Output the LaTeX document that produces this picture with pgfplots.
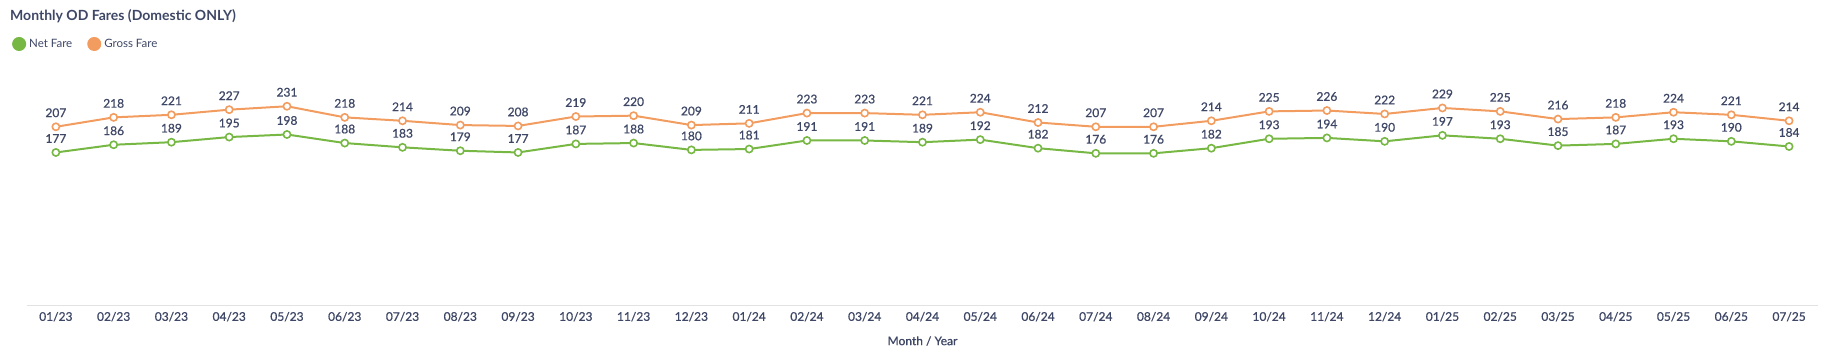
\documentclass[border=0pt]{standalone}
\usepackage{pgfplots}
\pgfplotsset{compat=1.18}
\usepackage{fontspec}
\setmainfont{Lato}
\newfontfamily\latomed[FakeBold=0.8]{Lato}
\definecolor{netc}{HTML}{77B844}
\definecolor{grossc}{HTML}{F39C5F}
\definecolor{txt}{HTML}{3E4766}
\definecolor{axc}{HTML}{E2E2E2}
\begin{document}
\begin{tikzpicture}
\useasboundingbox (0,0) rectangle (1836pt,355pt);
\begin{axis}[
  at={(27pt,49pt)}, anchor=south west,
  scale only axis, width=1791pt, height=216pt,
  xmin=-0.5, xmax=30.5, ymin=-2.4, ymax=250,
  axis x line*=bottom, axis y line=none,
  x axis line style={draw=axc, line width=1pt, -},
  xtick={0,...,30},
  xticklabels={01/23,02/23,03/23,04/23,05/23,06/23,07/23,08/23,09/23,10/23,11/23,12/23,01/24,02/24,03/24,04/24,05/24,06/24,07/24,08/24,09/24,10/24,11/24,12/24,01/25,02/25,03/25,04/25,05/25,06/25,07/25},
  major tick length=0pt,
  xticklabel style={font=\latomed\fontsize{12}{14}\selectfont, text=txt, anchor=center, yshift=-10.7pt},
  xlabel={Month / Year},
  xlabel style={font=\latomed\fontsize{12}{14}\selectfont, text=txt, at={(axis description cs:0.5,0)}, anchor=center, yshift=-35pt},
  clip=false,
  /pgf/number format/assume math mode=true,
  nodes near coords={\pgfmathprintnumber[assume math mode=true]{\pgfplotspointmeta}},
  every node near coord/.append style={font=\latomed\fontsize{12}{14}\selectfont, text=txt, anchor=center, yshift=14pt},
  legend columns=2,
  legend style={draw=none, fill=none, inner sep=0pt, at={(axis description cs:-0.0084,1.213)}, anchor=west,
    font=\fontsize{11.5}{13}\selectfont, text=txt, /tikz/every even column/.append style={column sep=12pt},
    nodes={inner sep=3pt}},
  legend image code/.code={\fill (6pt,0) circle (6pt);},
]
\addplot[color=netc, line width=2pt, mark=*, mark size=3.6pt, mark options={fill=white, line width=1.6pt}]
coordinates {(0,177)(1,186)(2,189)(3,195)(4,198)(5,188)(6,183)(7,179)(8,177)(9,187)(10,188)(11,180)(12,181)(13,191)(14,191)(15,189)(16,192)(17,182)(18,176)(19,176)(20,182)(21,193)(22,194)(23,190)(24,197)(25,193)(26,185)(27,187)(28,193)(29,190)(30,184)};
\addlegendentry{Net Fare}
\addplot[color=grossc, line width=2pt, mark=*, mark size=3.6pt, mark options={fill=white, line width=1.6pt}]
coordinates {(0,207)(1,218)(2,221)(3,227)(4,231)(5,218)(6,214)(7,209)(8,208)(9,219)(10,220)(11,209)(12,211)(13,223)(14,223)(15,221)(16,224)(17,212)(18,207)(19,207)(20,214)(21,225)(22,226)(23,222)(24,229)(25,225)(26,216)(27,218)(28,224)(29,221)(30,214)};
\addlegendentry{Gross Fare}
\end{axis}
\node[anchor=base west, inner sep=0pt, font=\bfseries\fontsize{14}{16}\selectfont, text=txt] at (10pt,334pt) {Monthly OD Fares (Domestic ONLY)};
\end{tikzpicture}
\end{document}
